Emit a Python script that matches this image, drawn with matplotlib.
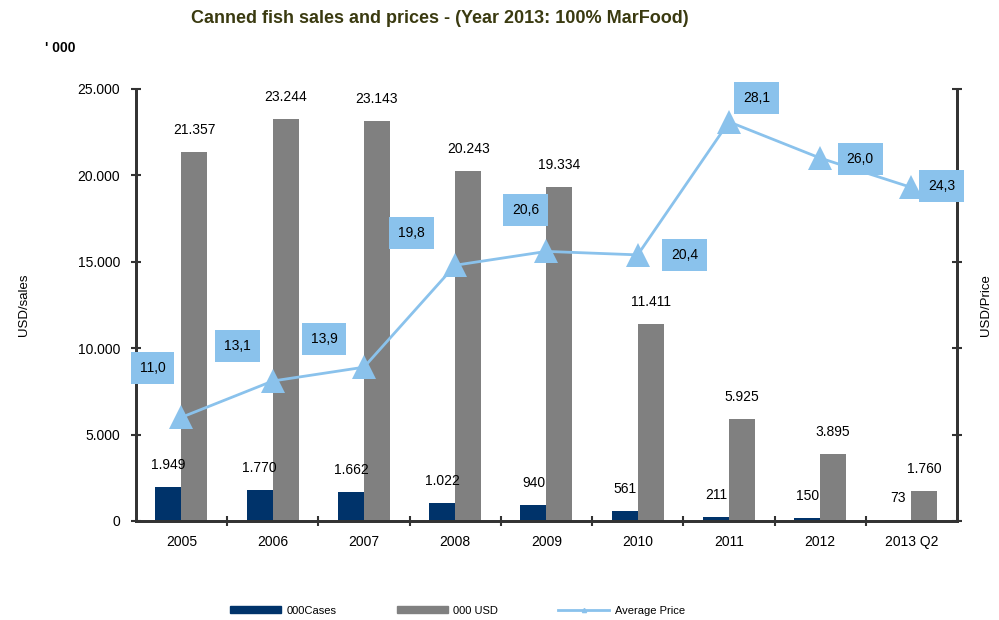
"""
Canned fish sales and prices, bars for cases/USD and a price line on a second axis
"""
import numpy as np
import matplotlib
matplotlib.use("Agg")
from matplotlib import pyplot as plt
from matplotlib.ticker import FuncFormatter, FixedLocator
from matplotlib.lines import Line2D
from matplotlib.patches import Patch

plt.rcParams['font.family'] = ['Liberation Sans', 'DejaVu Sans']

years = ["2005", "2006", "2007", "2008", "2009", "2010", "2011", "2012", "2013 Q2"]
cases = [1949, 1770, 1662, 1022, 940, 561, 211, 150, 73]
usd = [21357, 23244, 23143, 20243, 19334, 11411, 5925, 3895, 1760]
price = [11.0, 13.1, 13.9, 19.8, 20.6, 20.4, 28.1, 26.0, 24.3]
# where each price box sits relative to its point (pixels)
price_box_offsets = [(-29, -49), (-35, -35), (-40, -28), (-44, -32), (-21, -41),
                     (47, 0), (28, -24), (40, 1), (30, -1)]

navy = '#00336A'
grey = '#808080'
light_blue = '#8AC2EC'
axis_col = '#333333'


def dotted_thousands(v, pos=None):
    return f"{int(round(v)):,}".replace(",", ".")


fig = plt.figure(figsize=(9.99, 6.2), dpi=100)
ax = fig.add_axes([0.136, 0.1597, 0.822, 0.6968])
ax2 = ax.twinx()

x = np.arange(len(years))
w = 0.285
ax.bar(x - w / 2, cases, w, color=navy, zorder=2)
ax.bar(x + w / 2, usd, w, color=grey, zorder=2)

for xi, v in zip(x, cases):
    ax.annotate(dotted_thousands(v), (xi - w / 2, v), xytext=(0, 22),
                textcoords='offset pixels', ha='center', va='center', fontsize=10)
for xi, v in zip(x, usd):
    ax.annotate(dotted_thousands(v), (xi + w / 2, v), xytext=(0, 22),
                textcoords='offset pixels', ha='center', va='center', fontsize=10)

ax.set_xlim(-0.5, len(years) - 0.5)
ax.set_ylim(0, 25000)
ax.set_yticks(np.arange(0, 25001, 5000))
ax.yaxis.set_major_formatter(FuncFormatter(dotted_thousands))
ax.set_xticks(x)
ax.set_xticklabels(years)
ax.xaxis.set_minor_locator(FixedLocator(np.arange(0.5, len(years) - 0.5, 1)))
ax.tick_params(axis='x', which='major', length=0, labelsize=10, pad=10)
ax.tick_params(axis='x', which='minor', length=7, width=1.5, direction='inout',
               color=axis_col)
ax.tick_params(axis='y', length=7, width=1.5, direction='inout', color=axis_col,
               labelsize=10, pad=8)
ax.set_ylabel('USD/sales', fontsize=9.5, labelpad=34)

# price line on the right axis
ax2.plot(x, price, color=light_blue, lw=2, marker='^', markersize=17,
         markeredgewidth=0, zorder=3)
ax2.set_ylim(5, 30)
ax2.set_yticks(np.arange(5, 31, 5))
ax2.tick_params(axis='y', length=7, width=1.5, direction='inout', color=axis_col,
                labelright=False)
ax2.set_ylabel('USD/Price', fontsize=9.5, labelpad=13)
for xi, p, (dx, dy) in zip(x, price, price_box_offsets):
    ax2.annotate(f"{p:.1f}".replace(".", ","), (xi, p), xytext=(dx, -dy),
                 textcoords='offset pixels', ha='center', va='center', fontsize=10,
                 bbox=dict(boxstyle='square,pad=0.65', fc=light_blue, ec='none'),
                 zorder=4)

for a in (ax, ax2):
    a.spines['top'].set_visible(False)
    for s in ('left', 'right', 'bottom'):
        a.spines[s].set_color(axis_col)
        a.spines[s].set_linewidth(2)

fig.text(0.44, 0.97, 'Canned fish sales and prices - (Year 2013: 100% MarFood)',
         ha='center', va='center', fontsize=13, fontweight='bold', color='#3A3A10')
fig.text(0.045, 0.922, "' 000", ha='left', va='center', fontsize=10, fontweight='bold')

handles = [Patch(color=navy), Patch(color=grey),
           Line2D([0], [0], color=light_blue, lw=2, marker='^', markersize=3)]
fig.legend(handles, ['000Cases', '000 USD', 'Average Price'], loc='center',
           bbox_to_anchor=(0.458, 0.015), ncol=3, frameon=False, fontsize=8,
           handlelength=4.6, handleheight=0.6, handletextpad=0.5, columnspacing=5.4)

fig.savefig('out.png', dpi=100)
